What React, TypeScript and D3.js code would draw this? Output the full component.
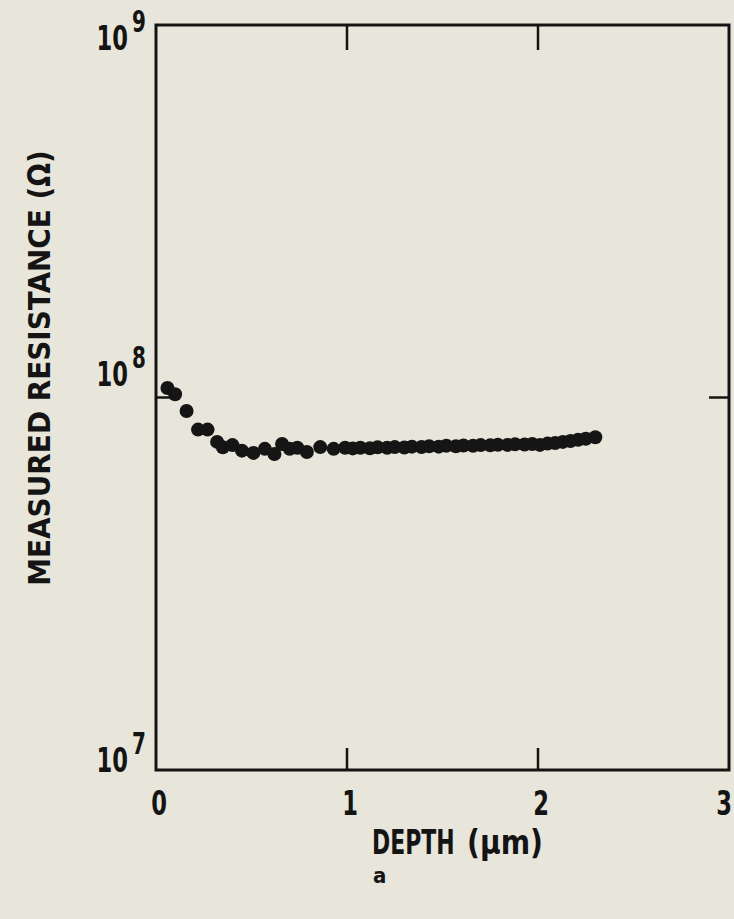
import React from 'react';
import { scaleLinear, scaleLog } from 'd3';

// depth in µm, measured resistance in ohm
const depth = [
  0.06, 0.1, 0.16, 0.22, 0.27, 0.32, 0.35, 0.4, 0.45, 0.51, 0.57, 0.62, 0.66, 0.7, 0.74, 0.79, 0.86, 0.93, 0.99,
  1.03, 1.07, 1.12, 1.16, 1.21, 1.25, 1.3, 1.34, 1.39, 1.43, 1.48, 1.52, 1.57, 1.61, 1.66, 1.7, 1.75, 1.79,
  1.84, 1.88, 1.93, 1.97, 2.01, 2.05, 2.09, 2.13, 2.17, 2.21, 2.25, 2.3,
];
const resistance = [
  10.6e7, 10.2e7, 9.2e7, 8.2e7, 8.2e7, 7.6e7, 7.35e7, 7.45e7, 7.2e7, 7.1e7, 7.28e7, 7.05e7, 7.5e7, 7.28e7,
  7.33e7, 7.14e7, 7.36e7, 7.28e7, 7.33e7,
  7.3e7, 7.33e7, 7.31e7, 7.35e7, 7.33e7, 7.36e7, 7.34e7, 7.38e7, 7.36e7, 7.4e7, 7.38e7, 7.42e7, 7.4e7,
  7.43e7, 7.42e7, 7.45e7, 7.44e7, 7.47e7, 7.46e7, 7.49e7, 7.48e7, 7.5e7, 7.46e7, 7.52e7, 7.55e7, 7.6e7,
  7.64e7, 7.7e7, 7.75e7, 7.82e7,
];

const xTicks = [0, 1, 2, 3];
const yTicks = [1e7, 1e8, 1e9];
const yExp = ['7', '8', '9'];

const W = 734;
const H = 919;
const left = 156, right = 729, top = 25, bottom = 770;
const font = '"DejaVu Sans Condensed", "DejaVu Sans", sans-serif';
const ink = '#141414';
const squeeze = 0.74;

// condensed bold text, squeezed horizontally around its anchor
const T = ({ x, y, size, anchor = 'start', sx = squeeze, children }: any) => (
  <text
    transform={`translate(${x},${y}) scale(${sx},1)`}
    textAnchor={anchor}
    fontFamily={font}
    fontWeight="bold"
    fontSize={size}
    fill={ink}
  >
    {children}
  </text>
);

export default function App() {
  const x = scaleLinear().domain([0, 3]).range([left, right]);
  const y = scaleLog().domain([1e7, 1e9]).range([bottom, top]);

  return (
    <svg width={W} height={H} style={{ position: 'absolute', left: 0, top: 0 }}>
      <rect width={W} height={H} fill="#e8e6da" />

      {/* frame */}
      <rect x={left} y={top} width={right - left} height={bottom - top} fill="none" stroke={ink} strokeWidth={3} />

      {/* inner ticks, bottom and top */}
      {xTicks.slice(1, -1).map((t) => (
        <g key={t}>
          <line x1={x(t)} x2={x(t)} y1={bottom} y2={bottom - 22} stroke={ink} strokeWidth={2.5} />
          <line x1={x(t)} x2={x(t)} y1={top} y2={top + 25} stroke={ink} strokeWidth={2.5} />
        </g>
      ))}
      {/* inner ticks, left and right */}
      {yTicks.slice(1, -1).map((t) => (
        <g key={t}>
          <line x1={left} x2={left + 17} y1={y(t)} y2={y(t)} stroke={ink} strokeWidth={2.5} />
          <line x1={right} x2={right - 20} y1={y(t)} y2={y(t)} stroke={ink} strokeWidth={2.5} />
        </g>
      ))}

      {/* x tick labels */}
      {xTicks.map((t) => (
        <T key={t} x={Math.min(x(t) + 3, 724)} y={815} size={34} anchor="middle">
          {t}
        </T>
      ))}

      {/* y tick labels */}
      {yTicks.map((t, i) => {
        const base = i === 0 ? y(t) + 2 : i === 1 ? y(t) - 12 : y(t) + 25;
        return (
          <g key={t}>
            <T x={128} y={base} size={34} anchor="end">
              10
            </T>
            <T x={132} y={base - 18} size={30}>
              {yExp[i]}
            </T>
          </g>
        );
      })}

      {/* data */}
      {depth.map((d, i) => (
        <circle key={i} cx={x(d)} cy={y(resistance[i])} r={7} fill="#151515" />
      ))}

      {/* axis titles */}
      <T x={372} y={854} size={33}>
        DEPTH
      </T>
      <T x={467} y={854} size={33} sx={0.95}>
        (μm)
      </T>
      <T x={373} y={883} size={22} sx={1}>
        a
      </T>
      <text
        transform="translate(50, 368) rotate(-90)"
        textAnchor="middle"
        fontFamily={font}
        fontWeight="bold"
        fontSize={31}
        fill={ink}
      >
        MEASURED RESISTANCE (Ω)
      </text>
    </svg>
  );
}
